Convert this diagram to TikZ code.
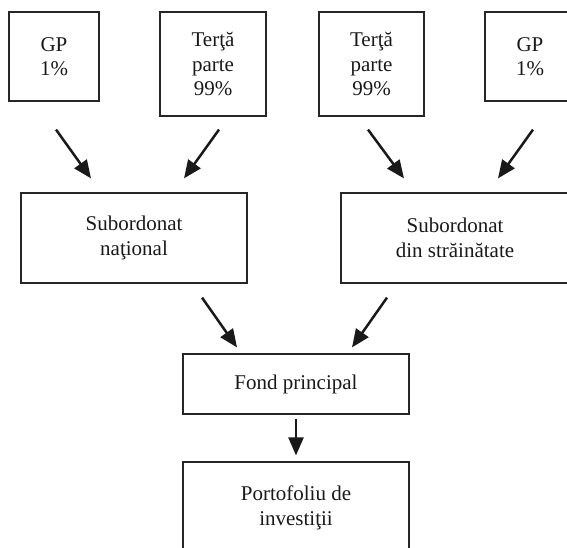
\documentclass[tikz,border=0pt]{standalone}
\usepackage{fontspec}
\setmainfont{Liberation Serif}
\usetikzlibrary{arrows.meta}
\begin{document}
\begin{tikzpicture}[x=0.5pt,y=-0.5pt,
  box/.style={draw=black!85, line width=0.6pt, align=center, inner sep=0pt,
    font=\fontsize{10.5pt}{12.3pt}\selectfont, text=black!90},
  arr/.style={line width=1.25pt, draw=black!90,
    -{Triangle[length=9pt,width=7.5pt]}}]
  \useasboundingbox (0,0) rectangle (567,547);
  \clip (0,0) rectangle (567,547);
  % owners
  \node[box, minimum width=45pt, minimum height=44.5pt] (gpa) at (54,56.5) {GP\\1\%};
  \node[box, minimum width=53pt, minimum height=52pt] (tpa) at (213,64) {Terţă\\parte\\99\%};
  \node[box, minimum width=52.5pt, minimum height=52pt] (tpb) at (371.5,64) {Terţă\\parte\\99\%};
  \node[box, minimum width=45pt, minimum height=44.5pt] (gpb) at (530,56.5) {GP\\1\%};
  % feeder funds
  \node[box, minimum width=113pt, minimum height=45pt] (sn) at (134,238) {Subordonat\\naţional};
  \node[box, minimum width=114pt, minimum height=45pt] (ss) at (455,238) {Subordonat\\din străinătate};
  % master fund and portfolio
  \node[box, minimum width=113pt, minimum height=30pt] (fp) at (296,384) {Fond principal};
  \node[box, minimum width=113pt, minimum height=46pt] (pi) at (296,508) {Portofoliu de\\investiţii};
  % connectors
  \draw[arr] ([shift={(2,28)}]gpa.south) -- ([shift={(-43,-14)}]sn.north);
  \draw[arr] ([shift={(6,13)}]tpa.south) -- ([shift={(50,-14)}]sn.north);
  \draw[arr] ([shift={(-3.5,13)}]tpb.south) -- ([shift={(-51,-14)}]ss.north);
  \draw[arr] ([shift={(3,28)}]gpb.south) -- ([shift={(43,-14)}]ss.north);
  \draw[arr] ([shift={(68,14)}]sn.south) -- ([shift={(-59,-6)}]fp.north);
  \draw[arr] ([shift={(-68,14)}]ss.south) -- ([shift={(56,-6)}]fp.north);
  \draw[arr] ([shift={(0,4)}]fp.south) -- ([shift={(0,-6)}]pi.north);
\end{tikzpicture}
\end{document}
